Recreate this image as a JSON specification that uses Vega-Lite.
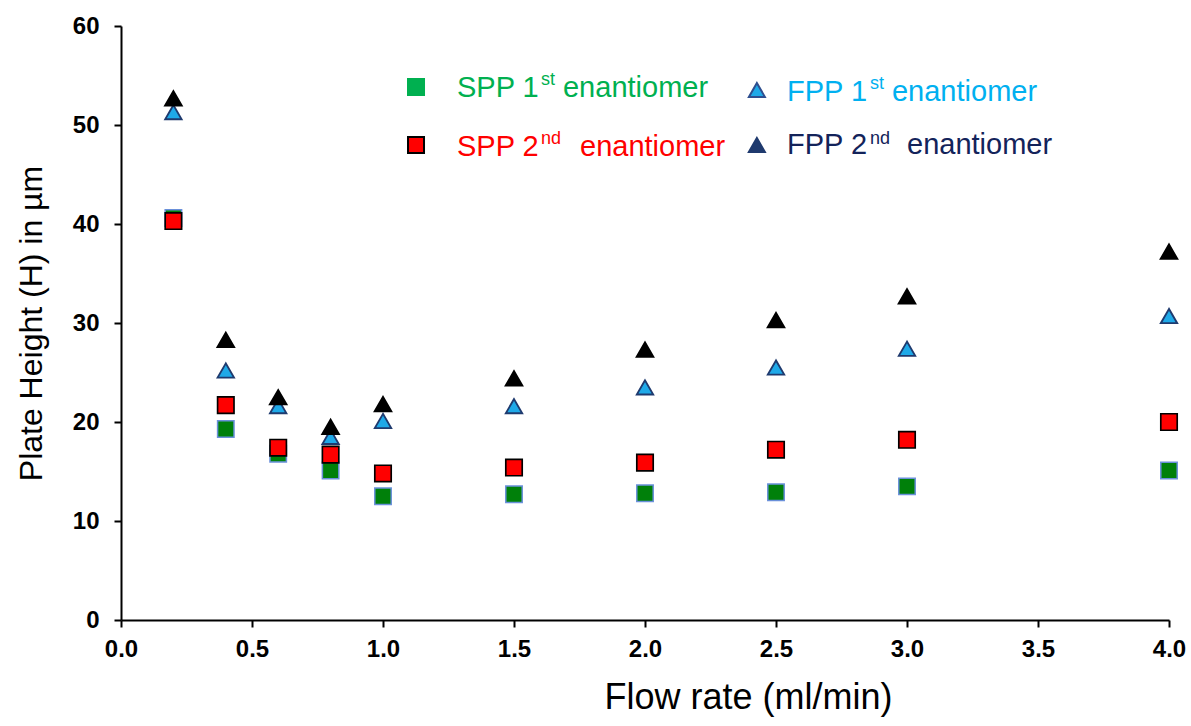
{
  "$schema": "https://vega.github.io/schema/vega-lite/v6.json",
  "width": 1048,
  "height": 594,
  "autosize": {"type": "none"},
  "padding": {"left": 121, "top": 26, "right": 22, "bottom": 106},
  "background": "white",
  "config": {
    "view": {"stroke": null},
    "font": "Liberation Sans"
  },
  "datasets": {
    "pts": [
      {"flow": 0.2, "H": 40.6, "series": "SPP1"},
      {"flow": 0.4, "H": 19.3, "series": "SPP1"},
      {"flow": 0.6, "H": 16.8, "series": "SPP1"},
      {"flow": 0.8, "H": 15.1, "series": "SPP1"},
      {"flow": 1.0, "H": 12.5, "series": "SPP1"},
      {"flow": 1.5, "H": 12.7, "series": "SPP1"},
      {"flow": 2.0, "H": 12.8, "series": "SPP1"},
      {"flow": 2.5, "H": 12.9, "series": "SPP1"},
      {"flow": 3.0, "H": 13.5, "series": "SPP1"},
      {"flow": 4.0, "H": 15.1, "series": "SPP1"},
      {"flow": 0.2, "H": 40.3, "series": "SPP2"},
      {"flow": 0.4, "H": 21.7, "series": "SPP2"},
      {"flow": 0.6, "H": 17.4, "series": "SPP2"},
      {"flow": 0.8, "H": 16.7, "series": "SPP2"},
      {"flow": 1.0, "H": 14.8, "series": "SPP2"},
      {"flow": 1.5, "H": 15.4, "series": "SPP2"},
      {"flow": 2.0, "H": 15.9, "series": "SPP2"},
      {"flow": 2.5, "H": 17.2, "series": "SPP2"},
      {"flow": 3.0, "H": 18.2, "series": "SPP2"},
      {"flow": 4.0, "H": 20.0, "series": "SPP2"},
      {"flow": 0.2, "H": 51.3, "series": "FPP1"},
      {"flow": 0.4, "H": 25.2, "series": "FPP1"},
      {"flow": 0.6, "H": 21.6, "series": "FPP1"},
      {"flow": 0.8, "H": 18.5, "series": "FPP1"},
      {"flow": 1.0, "H": 20.1, "series": "FPP1"},
      {"flow": 1.5, "H": 21.6, "series": "FPP1"},
      {"flow": 2.0, "H": 23.5, "series": "FPP1"},
      {"flow": 2.5, "H": 25.5, "series": "FPP1"},
      {"flow": 3.0, "H": 27.4, "series": "FPP1"},
      {"flow": 4.0, "H": 30.7, "series": "FPP1"},
      {"flow": 0.2, "H": 52.7, "series": "FPP2"},
      {"flow": 0.4, "H": 28.3, "series": "FPP2"},
      {"flow": 0.6, "H": 22.5, "series": "FPP2"},
      {"flow": 0.8, "H": 19.5, "series": "FPP2"},
      {"flow": 1.0, "H": 21.8, "series": "FPP2"},
      {"flow": 1.5, "H": 24.4, "series": "FPP2"},
      {"flow": 2.0, "H": 27.3, "series": "FPP2"},
      {"flow": 2.5, "H": 30.3, "series": "FPP2"},
      {"flow": 3.0, "H": 32.7, "series": "FPP2"},
      {"flow": 4.0, "H": 37.2, "series": "FPP2"}
    ],
    "legmark": [
      {"lx": 1.126, "ly": 53.84, "series": "SPP1"},
      {"lx": 1.126, "ly": 47.98, "series": "SPP2"},
      {"lx": 2.427, "ly": 53.54, "series": "FPP1"},
      {"lx": 2.427, "ly": 47.98, "series": "FPP2"}
    ],
    "legtext": [
      {"lx": 1.2824, "ly": 53.7, "t": "SPP 1", "series": "SPP1", "kind": "main"},
      {"lx": 1.6031, "ly": 54.5, "t": "st", "series": "SPP1", "kind": "sup"},
      {"lx": 1.687, "ly": 53.7, "t": "enantiomer", "series": "SPP1", "kind": "main"},
      {"lx": 1.2824, "ly": 47.8, "t": "SPP 2", "series": "SPP2", "kind": "main"},
      {"lx": 1.6031, "ly": 48.6, "t": "nd", "series": "SPP2", "kind": "sup"},
      {"lx": 1.7519, "ly": 47.8, "t": "enantiomer", "series": "SPP2", "kind": "main"},
      {"lx": 2.542, "ly": 53.3, "t": "FPP 1", "series": "FPP1", "kind": "main"},
      {"lx": 2.8588, "ly": 54.1, "t": "st", "series": "FPP1", "kind": "sup"},
      {"lx": 2.9427, "ly": 53.3, "t": "enantiomer", "series": "FPP1", "kind": "main"},
      {"lx": 2.542, "ly": 48.0, "t": "FPP 2", "series": "FPP2", "kind": "main"},
      {"lx": 2.8588, "ly": 48.6, "t": "nd", "series": "FPP2", "kind": "sup"},
      {"lx": 3.0, "ly": 48.0, "t": "enantiomer", "series": "FPP2", "kind": "main"}
    ]
  },
  "resolve": {"scale": {"fill": "independent", "stroke": "independent", "shape": "independent", "color": "independent", "strokeWidth": "independent"}},
  "layer": [
    {
      "data": {"name": "pts"},
      "mark": {"type": "point", "filled": true, "size": 270, "opacity": 1},
      "encoding": {
        "x": {
          "field": "flow", "type": "quantitative",
          "scale": {"domain": [0, 4], "nice": false, "zero": false},
          "axis": {
            "title": "Flow rate (ml/min)",
            "values": [0, 0.5, 1, 1.5, 2, 2.5, 3, 3.5, 4],
            "format": ".1f",
            "grid": false,
            "labelFlush": false,
            "labelOverlap": false,
            "domainColor": "black", "domainWidth": 2,
            "tickColor": "black", "tickWidth": 2, "tickSize": 7,
            "labelFont": "Liberation Sans", "labelFontWeight": "bold", "labelFontSize": 24, "labelColor": "black",
            "labelPadding": 10,
            "titleFont": "Liberation Sans", "titleFontWeight": "normal", "titleFontSize": 36, "titleColor": "black",
            "titlePadding": 19,
            "titleX": 627
          }
        },
        "y": {
          "field": "H", "type": "quantitative",
          "scale": {"domain": [0, 60], "nice": false},
          "axis": {
            "title": "Plate Height (H) in µm",
            "values": [0, 10, 20, 30, 40, 50, 60],
            "grid": false,
            "labelFlush": false,
            "labelOverlap": false,
            "domainColor": "black", "domainWidth": 2,
            "tickColor": "black", "tickWidth": 2, "tickSize": 7,
            "labelFont": "Liberation Sans", "labelFontWeight": "bold", "labelFontSize": 24, "labelColor": "black",
            "labelPadding": 15,
            "titleFont": "Liberation Sans", "titleFontWeight": "normal", "titleFontSize": 32, "titleColor": "black",
            "titlePadding": 24
          }
        },
        "shape": {"field": "series", "type": "nominal", "scale": {"domain": ["SPP1", "SPP2", "FPP1", "FPP2"], "range": ["square", "square", "triangle-up", "triangle-up"]}, "legend": null},
        "fill": {"field": "series", "type": "nominal", "scale": {"domain": ["SPP1", "SPP2", "FPP1", "FPP2"], "range": ["#00800a", "#ff0000", "#1fa9e8", "#000000"]}, "legend": null},
        "stroke": {"field": "series", "type": "nominal", "scale": {"domain": ["SPP1", "SPP2", "FPP1", "FPP2"], "range": ["#6a90da", "#000000", "#1f3a6e", "#000000"]}, "legend": null},
        "strokeWidth": {"field": "series", "type": "nominal", "scale": {"domain": ["SPP1", "SPP2", "FPP1", "FPP2"], "range": [1.5, 2, 2, 0.5]}, "legend": null},
        "order": {"field": "series", "sort": "ascending"}
      }
    },
    {
      "data": {"name": "legmark"},
      "mark": {"type": "point", "filled": true, "size": 256, "opacity": 1},
      "encoding": {
        "x": {"field": "lx", "type": "quantitative"},
        "y": {"field": "ly", "type": "quantitative"},
        "shape": {"field": "series", "type": "nominal", "scale": {"domain": ["SPP1", "SPP2", "FPP1", "FPP2"], "range": ["square", "square", "triangle-up", "triangle-up"]}, "legend": null},
        "fill": {"field": "series", "type": "nominal", "scale": {"domain": ["SPP1", "SPP2", "FPP1", "FPP2"], "range": ["#00b050", "#ff0000", "#1fa9e8", "#1f3a6e"]}, "legend": null},
        "stroke": {"field": "series", "type": "nominal", "scale": {"domain": ["SPP1", "SPP2", "FPP1", "FPP2"], "range": ["#00b050", "#000000", "#2f4f8f", "#1f3a6e"]}, "legend": null}
      }
    },
    {
      "data": {"name": "legtext"},
      "transform": [{"filter": "datum.kind === 'main'"}],
      "mark": {"type": "text", "align": "left", "baseline": "middle", "fontSize": 29, "font": "Liberation Sans"},
      "encoding": {
        "x": {"field": "lx", "type": "quantitative"},
        "y": {"field": "ly", "type": "quantitative"},
        "text": {"field": "t"},
        "color": {"field": "series", "type": "nominal", "scale": {"domain": ["SPP1", "SPP2", "FPP1", "FPP2"], "range": ["#00b050", "#ff0000", "#00b0f0", "#13235a"]}, "legend": null}
      }
    },
    {
      "data": {"name": "legtext"},
      "transform": [{"filter": "datum.kind === 'sup'"}],
      "mark": {"type": "text", "align": "left", "baseline": "middle", "fontSize": 18, "font": "Liberation Sans"},
      "encoding": {
        "x": {"field": "lx", "type": "quantitative"},
        "y": {"field": "ly", "type": "quantitative"},
        "text": {"field": "t"},
        "color": {"field": "series", "type": "nominal", "scale": {"domain": ["SPP1", "SPP2", "FPP1", "FPP2"], "range": ["#00b050", "#ff0000", "#00b0f0", "#13235a"]}, "legend": null}
      }
    }
  ]
}
